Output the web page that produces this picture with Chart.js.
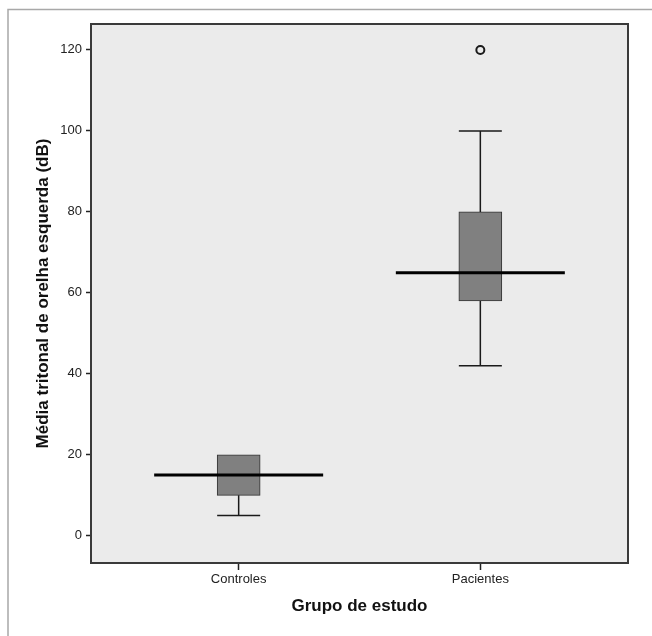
<!doctype html>
<html>
    <head>
        <meta charset="UTF-8" />
        <title>Média tritonal de orelha esquerda</title>
        <script src="https://cdn.jsdelivr.net/npm/chart.js"></script>
        <style>
            body { margin: 0; background: #fff; }
            #wrap { width: 652px; height: 636px; }
        </style>
    </head>

    <body>
        <div id="wrap"><canvas id="myChart" width="652" height="636"></canvas></div>

        <script>
        // Grupos e estatísticas do boxplot (dB)
        var grupos = ['Controles', 'Pacientes'];
        var minimo = [5, 42];
        var q1 = [10, 58];
        var mediana = [15, 65];
        var q3 = [20, 80];
        var maximo = [20, 100];
        var outliers = [[], [120]];
        var yTicks = [0, 20, 40, 60, 80, 100, 120];

        var ctx = document.getElementById('myChart').getContext('2d');
        var fonte = '"Liberation Sans", Arial, sans-serif';

        // caixas como barras flutuantes
        var caixas = grupos.map(function (g, i) {
            return { x: i + 1, y: [q1[i], q3[i]] };
        });
        var pontos = [];
        outliers.forEach(function (lista, i) {
            lista.forEach(function (v) { pontos.push({ x: i + 1, y: v }); });
        });

        // fundo, moldura e bigodes/mediana desenhados com as escalas do Chart.js
        var boxplotPlugin = {
            id: 'boxplot',
            beforeDraw: function (chart) {
                var c = chart.ctx, a = chart.chartArea;
                c.save();
                c.fillStyle = '#fff';
                c.fillRect(0, 0, chart.width, chart.height);
                c.strokeStyle = '#a8a8a8';
                c.lineWidth = 1.5;
                c.beginPath();
                c.moveTo(8, chart.height);
                c.lineTo(8, 9.5);
                c.lineTo(chart.width, 9.5);
                c.stroke();
                c.fillStyle = '#ebebeb';
                c.fillRect(a.left, a.top, a.right - a.left, a.bottom - a.top);
                c.restore();
            },
            afterDatasetsDraw: function (chart) {
                var c = chart.ctx, a = chart.chartArea;
                var xs = chart.scales.x, ys = chart.scales.y;
                c.save();
                grupos.forEach(function (g, i) {
                    var cx = xs.getPixelForValue(i + 1);
                    c.strokeStyle = '#1a1a1a';
                    c.lineWidth = 1.5;
                    c.beginPath();
                    // bigode inferior
                    if (minimo[i] < q1[i]) {
                        c.moveTo(cx, ys.getPixelForValue(q1[i]));
                        c.lineTo(cx, ys.getPixelForValue(minimo[i]));
                    }
                    c.moveTo(cx - 21.5, ys.getPixelForValue(minimo[i]));
                    c.lineTo(cx + 21.5, ys.getPixelForValue(minimo[i]));
                    // bigode superior
                    if (maximo[i] > q3[i]) {
                        c.moveTo(cx, ys.getPixelForValue(q3[i]));
                        c.lineTo(cx, ys.getPixelForValue(maximo[i]));
                        c.moveTo(cx - 21.5, ys.getPixelForValue(maximo[i]));
                        c.lineTo(cx + 21.5, ys.getPixelForValue(maximo[i]));
                    }
                    c.stroke();
                    // mediana
                    c.strokeStyle = '#000';
                    c.lineWidth = 3;
                    c.beginPath();
                    c.moveTo(cx - 84.5, ys.getPixelForValue(mediana[i]));
                    c.lineTo(cx + 84.5, ys.getPixelForValue(mediana[i]));
                    c.stroke();
                });
                c.strokeStyle = '#3a3a3a';
                c.lineWidth = 2;
                c.strokeRect(a.left, a.top, a.right - a.left, a.bottom - a.top);
                c.restore();
            }
        };

        var myChart = new Chart(ctx, {
            type: 'bar',
            data: {
                datasets: [{
                    type: 'bar',
                    data: caixas,
                    backgroundColor: '#808080',
                    borderColor: '#333',
                    borderWidth: 1,
                    borderSkipped: false,
                    barThickness: 43
                }, {
                    type: 'scatter',
                    data: pontos,
                    pointStyle: 'circle',
                    pointRadius: 4,
                    borderWidth: 2,
                    borderColor: '#1a1a1a',
                    backgroundColor: 'rgba(0,0,0,0)'
                }]
            },
            options: {
                responsive: false,
                animation: false,
                layout: { padding: { top: 24, right: 24, left: 0, bottom: 0 } },
                plugins: {
                    legend: { display: false },
                    tooltip: { enabled: false }
                },
                scales: {
                    x: {
                        type: 'linear',
                        min: 0.389,
                        max: 2.611,
                        offset: false,
                        border: { display: false },
                        grid: { offset: false, drawOnChartArea: false, drawTicks: true, tickLength: 7, tickColor: '#222', tickWidth: 1.5 },
                        afterBuildTicks: function (scale) {
                            scale.ticks = grupos.map(function (g, i) { return { value: i + 1 }; });
                        },
                        afterFit: function (scale) { scale.height = 73; },
                        ticks: {
                            autoSkip: false,
                            maxRotation: 0,
                            padding: 2,
                            color: '#222',
                            font: { family: fonte, size: 13 },
                            callback: function (v) { return grupos[v - 1]; }
                        },
                        title: {
                            display: true,
                            text: 'Grupo de estudo',
                            color: '#111',
                            font: { family: fonte, size: 17, weight: 'bold' },
                            padding: { top: 0, bottom: 19 }
                        }
                    },
                    y: {
                        min: -6.7,
                        max: 126.4,
                        border: { display: false },
                        grid: { drawOnChartArea: false, drawTicks: true, tickLength: 5, tickColor: '#222', tickWidth: 1.5 },
                        afterBuildTicks: function (scale) {
                            scale.ticks = yTicks.map(function (v) { return { value: v }; });
                        },
                        afterFit: function (scale) { scale.width = 91; },
                        ticks: {
                            padding: 4,
                            color: '#222',
                            font: { family: fonte, size: 13 }
                        },
                        title: {
                            display: true,
                            text: 'Média tritonal de orelha esquerda (dB)',
                            color: '#111',
                            font: { family: fonte, size: 17, weight: 'bold' },
                            padding: { top: 33, bottom: 0 }
                        }
                    }
                }
            },
            plugins: [boxplotPlugin]
        });
        </script>
    </body>
</html>
